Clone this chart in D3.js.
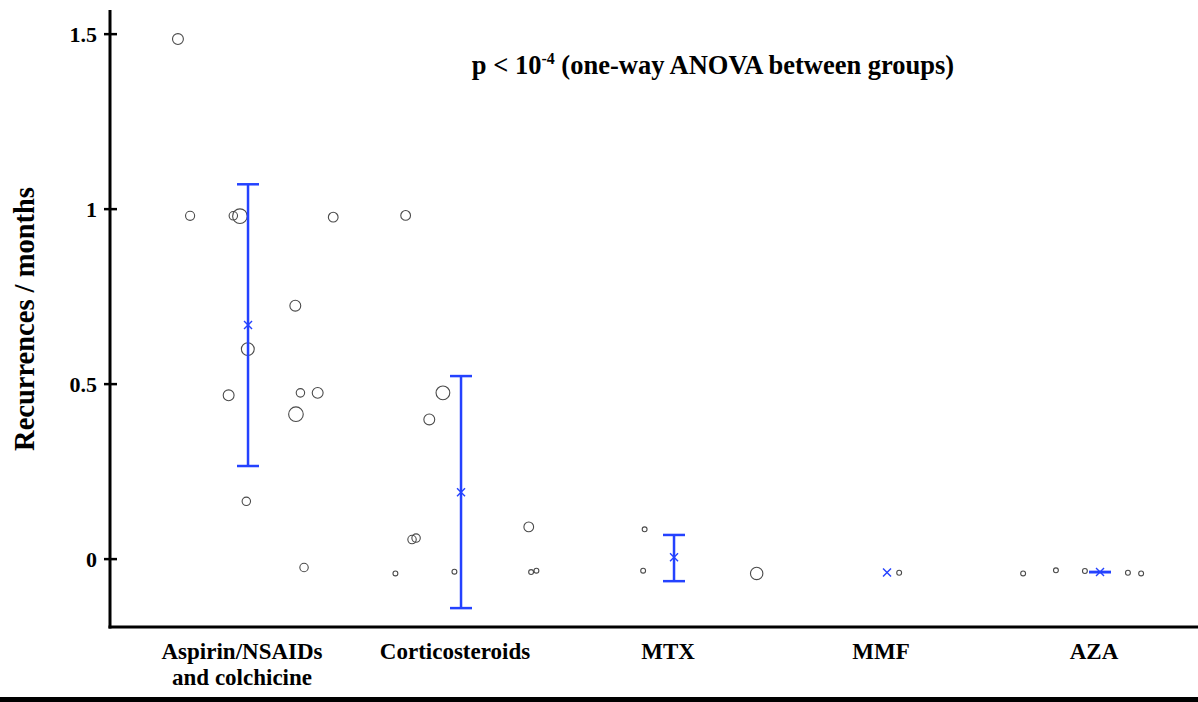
<!DOCTYPE html>
<head>
  <meta charset="utf-8" />
  <script src="https://d3js.org/d3.v7.min.js"></script>
  <style>
    body { margin: 0; background: #fff; }
    text { font-family: "Liberation Serif", "Times New Roman", serif; font-weight: bold; fill: #000; }
  </style>
</head>
<body>
<script>
// groups on the x axis
var groups = ["Aspirin/NSAIDs\nand colchicine", "Corticosteroids", "MTX", "MMF", "AZA"];

// individual patients: group index, horizontal jitter (in group units), recurrences/month, circle size
var ptGroup  = [0,0,0,0,0,0,0,0,0,0,0,0,0,
                1,1,1,1,1,1,1,1,1,1,
                2,2,2,
                3,
                4,4,4,4,4];
var ptJitter = [-0.329,-0.272,-0.069,-0.038,0.400,0.222,-0.001,-0.091,0.246,0.327,0.225,-0.008,0.263,
                -0.260,-0.085,-0.149,-0.230,-0.211,-0.308,-0.031,0.318,0.329,0.354,
                -0.138,-0.145,0.388,
                0.057,
                -0.361,-0.207,-0.071,0.131,0.193];
var ptValue  = [1.486,0.981,0.981,0.980,0.977,0.724,0.600,0.468,0.475,0.475,0.414,0.165,-0.024,
                0.982,0.475,0.399,0.056,0.060,-0.041,-0.036,0.092,-0.037,-0.033,
                0.085,-0.033,-0.041,
                -0.039,
                -0.041,-0.032,-0.034,-0.039,-0.041];
var ptSize   = [5,3.5,3,9,4,5,7,5,3,5,9,3,3,
                4,8,5,3,3,1,1,4,1,1,
                1,1,6.5,
                1,
                1,1,1,1,1];

// group mean and error bar ends
var means = [0.669, 0.191, 0.005, -0.038, -0.037];
var lower = [0.266, -0.140, -0.063, -0.038, -0.037];
var upper = [1.071, 0.523, 0.069, -0.038, -0.037];
var hasBar = [true, true, true, false, true];

var yTicks = [0, 0.5, 1, 1.5];

var width = 1198, height = 702;
var blue = "#2442ff";

var svg = d3.select("body").append("svg")
  .attr("width", width)
  .attr("height", height);

var x = d3.scaleLinear().domain([-0.648, 4.46]).range([110, 1198]);
var y = d3.scaleLinear().domain([-0.194, 1.569]).range([627, 10]);
var r = d3.scaleSqrt().domain([0, 9]).range([0, 7.3]);

// axes
svg.append("line").attr("x1", 110).attr("x2", 110).attr("y1", y(1.569)).attr("y2", y(-0.194) + 1.5)
  .attr("stroke", "#000").attr("stroke-width", 3);
svg.append("line").attr("x1", 108.5).attr("x2", width).attr("y1", y(-0.194)).attr("y2", y(-0.194))
  .attr("stroke", "#000").attr("stroke-width", 3);

var yAxis = svg.append("g").selectAll("g").data(yTicks).join("g")
  .attr("transform", d => "translate(110," + y(d) + ")");
yAxis.append("line").attr("x1", -6).attr("x2", 7).attr("stroke", "#000").attr("stroke-width", 2.5);
yAxis.append("text").attr("x", -13).attr("dy", "0.35em").attr("text-anchor", "end")
  .style("font-size", "22px").text(d => d3.format("")(d));

svg.append("text")
  .attr("transform", "translate(34,319) rotate(-90)")
  .attr("text-anchor", "middle")
  .style("font-size", "28.5px")
  .text("Recurrences / months");

// category labels
svg.append("g").selectAll("text").data(groups).join("text")
  .attr("x", (d, i) => x(i) - 6)
  .attr("y", 659)
  .attr("text-anchor", "middle")
  .style("font-size", "23px")
  .selectAll("tspan").data(d => d.split("\n")).join("tspan")
  .attr("x", function () { return d3.select(this.parentNode).attr("x"); })
  .attr("dy", (d, i) => i === 0 ? 0 : 26)
  .text(d => d);

// title
var title = svg.append("text").attr("x", 713).attr("y", 74).attr("text-anchor", "middle")
  .style("font-size", "26.5px");
title.append("tspan").text("p < 10");
title.append("tspan").attr("dy", -10).style("font-size", "16px").text("-4");
title.append("tspan").attr("dy", 10).text(" (one-way ANOVA between groups)");

// patients
svg.append("g").selectAll("circle").data(ptValue).join("circle")
  .attr("cx", (d, i) => x(ptGroup[i] + ptJitter[i]))
  .attr("cy", d => y(d))
  .attr("r", (d, i) => r(ptSize[i]))
  .attr("fill", "none")
  .attr("stroke", "#4a4a4a")
  .attr("stroke-width", 1.1);

// error bars with mean markers
var bars = svg.append("g").selectAll("g").data(means).join("g")
  .attr("transform", (d, i) => "translate(" + x(i) + ",0)");
bars.each(function (d, i) {
  var g = d3.select(this);
  if (hasBar[i]) {
    g.append("line").attr("y1", y(lower[i])).attr("y2", y(upper[i]))
      .attr("stroke", blue).attr("stroke-width", 2.5);
    [lower[i], upper[i]].forEach(function (v) {
      g.append("line").attr("x1", -11).attr("x2", 11).attr("y1", y(v)).attr("y2", y(v))
        .attr("stroke", blue).attr("stroke-width", 2.5);
    });
  }
  var s = 4;
  g.append("path")
    .attr("d", "M" + (-s) + "," + (y(d) - s) + "L" + s + "," + (y(d) + s) +
               "M" + (-s) + "," + (y(d) + s) + "L" + s + "," + (y(d) - s))
    .attr("stroke", blue).attr("stroke-width", 1.4).attr("fill", "none");
});

// bottom border
svg.append("rect").attr("x", 0).attr("y", 697).attr("width", width).attr("height", 5).attr("fill", "#000");
</script>
</body>
